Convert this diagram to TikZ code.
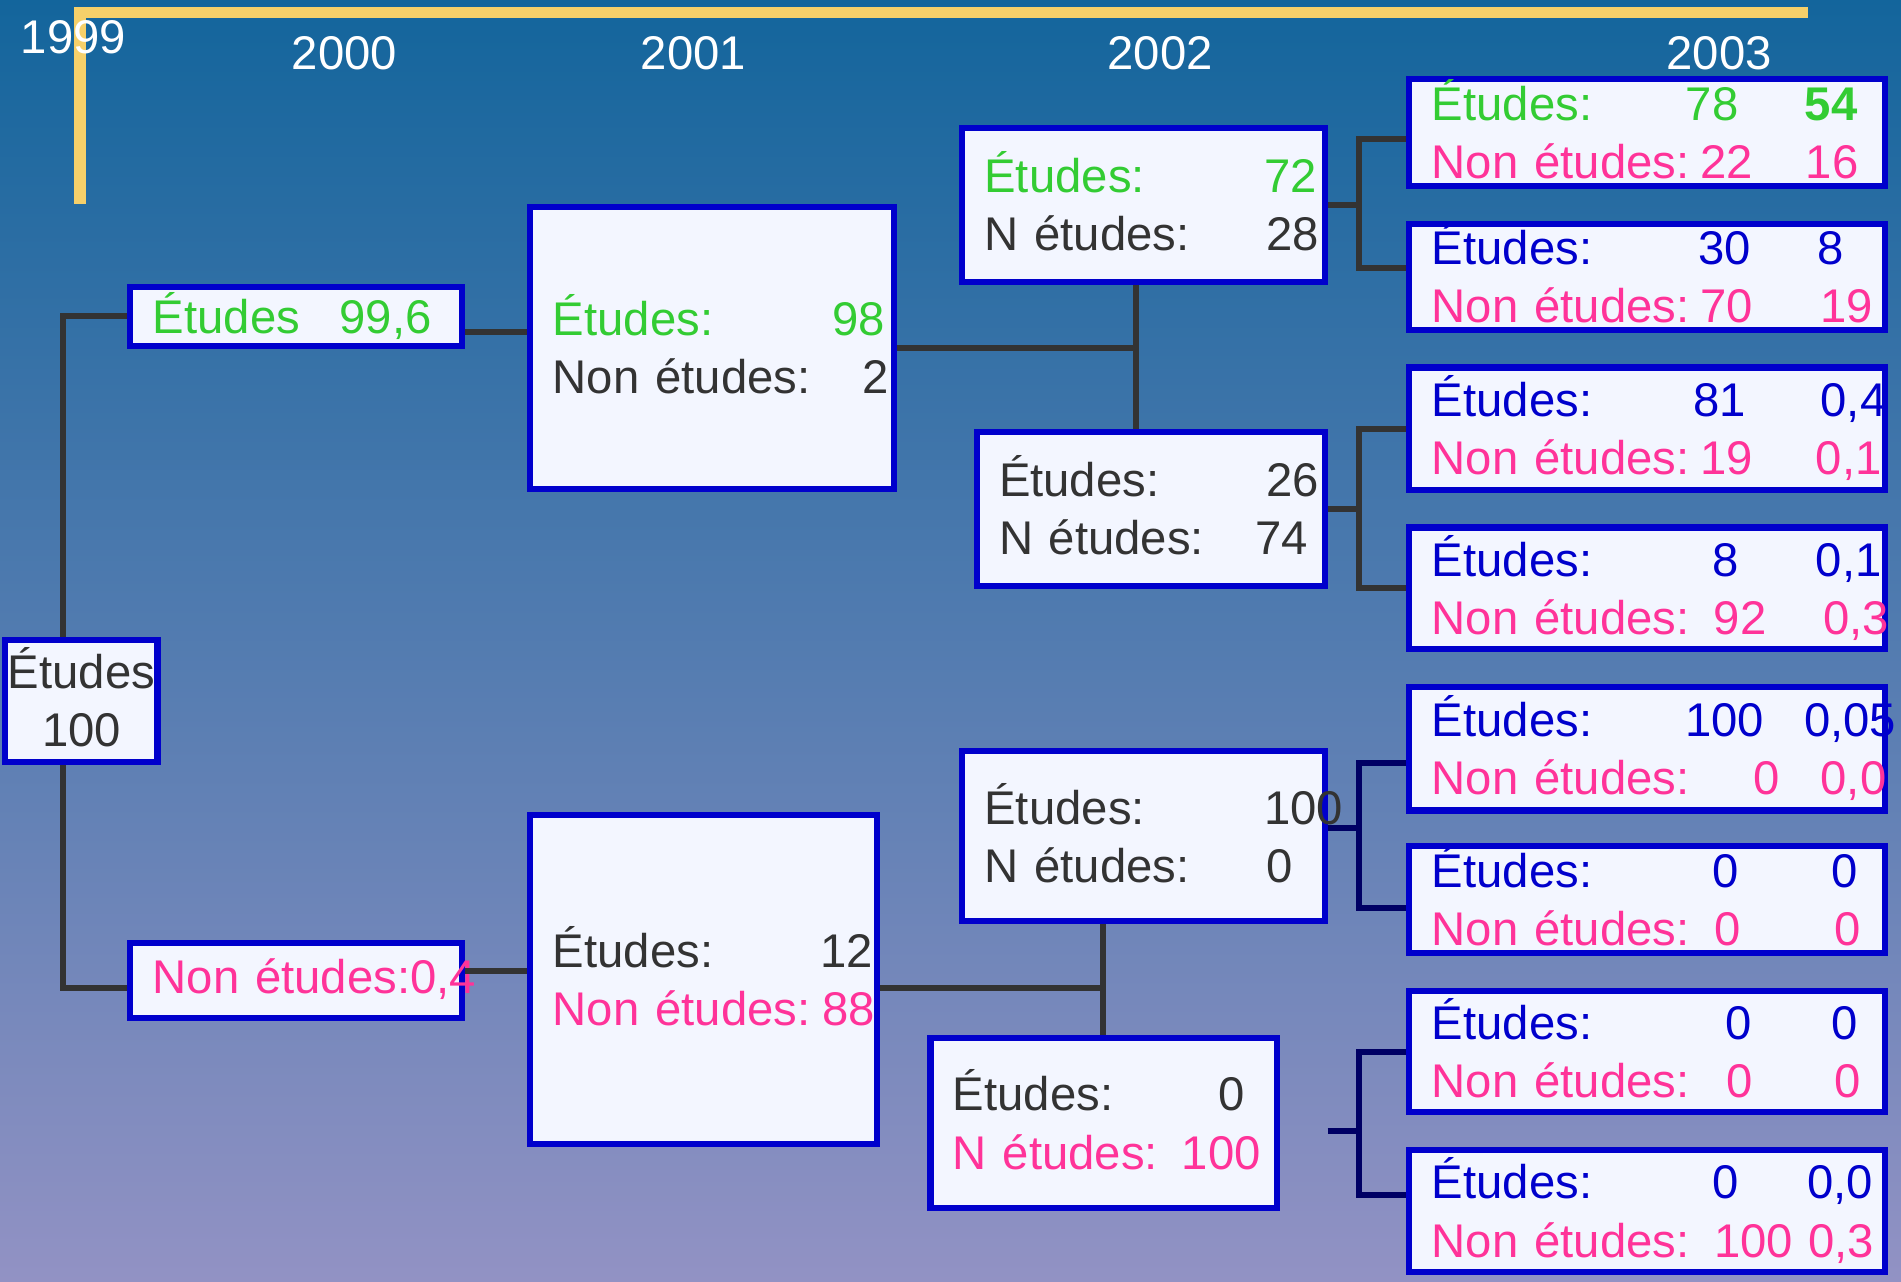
\documentclass[tikz,border=0pt]{standalone}
\usepackage{fontspec}
\setmainfont{Liberation Sans}
\setlength\parindent{0pt}

\definecolor{bgtop}{RGB}{19,101,156}
\definecolor{bgmid}{RGB}{100,121,172}
\definecolor{bgbot}{RGB}{146,146,196}
\definecolor{gold}{RGB}{246,208,106}
\definecolor{boxblue}{RGB}{0,0,204}
\definecolor{boxfill}{RGB}{243,246,255}
\definecolor{tgreen}{RGB}{51,204,51}
\definecolor{tpink}{RGB}{255,51,153}
\definecolor{tblue}{RGB}{0,0,204}
\definecolor{tdark}{RGB}{51,51,51}
\definecolor{linkgrey}{RGB}{51,51,51}
\definecolor{linknavy}{RGB}{0,0,100}

% label, then numbers set flush right at fixed offsets (pt)
\newcommand\trow[5]{\mbox{\rlap{#1}\rlap{\hspace*{#2pt}\llap{#3}}\hspace*{#4pt}\llap{#5}}}
\newcommand\crow[3]{\mbox{\rlap{#1}\hspace*{#2pt}\llap{#3}}}

\begin{document}
\begin{tikzpicture}[x=0.5pt,y=-0.5pt]

\tikzset{box/.style={
		draw=boxblue, fill=boxfill, line width=2.5pt,
		anchor=north west, inner xsep=9.25pt, inner ysep=0pt,
		align=left, text=tdark,
		font=\fontsize{19.5}{24}\selectfont,
		execute at end node={\rule[-3pt]{0pt}{3pt}}
	},
	dbox/.style={box, minimum width=196pt, text width=177.5pt},
	year/.style={text=white, font=\fontsize{19.5}{24}\selectfont},
	link/.style={draw=linkgrey, line width=2.5pt},
	navylink/.style={draw=linknavy, line width=2.5pt}
}

% background
\shade[top color=bgtop, middle color=bgmid, bottom color=bgbot] (0,0) rectangle (1568,1057);
\useasboundingbox (0,0) rectangle (1568,1057);

% time axis
\draw[gold, line width=4.75pt] (66,168) |- (1491,10.5);
\node[year] (y99) at (60.5,31) {1999};
\node[year] (y00) at (284,44) {2000};
\node[year] (y01) at (572,44) {2001};
\node[year] (y02) at (957,44) {2002};
\node[year] (y03) at (1418,44) {2003};

% 1999
\node[box, align=center, inner xsep=1pt, minimum width=62.5pt, minimum height=50.5pt] (root) at (2,525) {Études\\100};

% 2000
\node[box, minimum width=136.75pt, minimum height=24.5pt, text width=118.25pt] (e00) at (105,234)
	{\textcolor{tgreen}{\crow{Études}{115}{99,6}}};
\node[box, minimum width=136.75pt, minimum height=31pt, text width=118.25pt] (n00) at (105,775)
	{\textcolor{tpink}{\mbox{Non études:0,4}}};

% 2001
\node[box, minimum width=150pt, minimum height=116.5pt, text width=131.5pt] (e01) at (435,168)
	{\textcolor{tgreen}{\crow{Études:}{137}{98}}\\\crow{Non études:}{138.5}{2}};
\node[box, minimum width=143pt, minimum height=135.5pt, text width=124.5pt] (n01) at (435,670)
	{\crow{Études:}{132}{12}\\\textcolor{tpink}{\crow{Non études:}{133}{88}}};

% 2002
\node[box, minimum width=149.5pt, minimum height=63.5pt, text width=131pt] (e02a) at (791,103)
	{\textcolor{tgreen}{\crow{Études:}{137}{72}}\\\crow{N études:}{138}{28}};
\node[box, minimum width=143.5pt, minimum height=63.5pt, text width=125pt] (e02b) at (803,353.5)
	{\crow{Études:}{132}{26}\\\crow{N études:}{127.5}{74}};
\node[box, minimum width=149.5pt, minimum height=70.25pt, text width=131pt] (n02a) at (791,617)
	{\crow{Études:}{148}{100}\\\crow{N études:}{127}{0}};
\node[box, minimum width=143pt, minimum height=70.15pt, text width=124.5pt] (n02b) at (765,853.7)
	{\crow{Études:}{120.5}{0}\\\textcolor{tpink}{\crow{N études:}{127}{100}}};

% 2003
\node[dbox, minimum height=44pt] (e03a) at (1160,63)
	{\textcolor{tgreen}{\trow{Études:}{126.5}{78}{175.5}{\textbf{54}}}\\
	 \textcolor{tpink}{\trow{Non études:}{132.5}{22}{176}{16}}};
\node[dbox, minimum height=43.5pt] (e03b) at (1160,182)
	{\textcolor{tblue}{\trow{Études:}{131.5}{30}{170}{8}}\\
	 \textcolor{tpink}{\trow{Non études:}{132.5}{70}{182}{19}}};
\node[dbox, minimum height=50.5pt] (e03c) at (1160,300.6)
	{\textcolor{tblue}{\trow{Études:}{129.5}{81}{187.5}{0,4}}\\
	 \textcolor{tpink}{\trow{Non études:}{132.5}{19}{185.5}{0,1}}};
\node[dbox, minimum height=50.2pt] (e03d) at (1160,432.6)
	{\textcolor{tblue}{\trow{Études:}{126.5}{8}{185.5}{0,1}}\\
	 \textcolor{tpink}{\trow{Non études:}{138}{92}{188.5}{0,3}}};
\node[dbox, minimum height=51pt] (n03a) at (1160,564)
	{\textcolor{tblue}{\trow{Études:}{137}{100}{191.5}{0,05}}\\
	 \textcolor{tpink}{\trow{Non études:}{143.5}{0}{187.5}{0,0}}};
\node[dbox, minimum height=44pt] (n03b) at (1160,695.5)
	{\textcolor{tblue}{\trow{Études:}{126.5}{0}{175.5}{0}}\\
	 \textcolor{tpink}{\trow{Non études:}{127.5}{0}{177}{0}}};
\node[dbox, minimum height=50.15pt] (n03c) at (1160,814.7)
	{\textcolor{tblue}{\trow{Études:}{132}{0}{175.5}{0}}\\
	 \textcolor{tpink}{\trow{Non études:}{132.5}{0}{177}{0}}};
\node[dbox, minimum height=50.5pt] (n03d) at (1160,946)
	{\textcolor{tblue}{\trow{Études:}{126.5}{0}{182}{0,0}}\\
	 \textcolor{tpink}{\trow{Non études:}{149}{100}{182.5}{0,3}}};

% connectors
\coordinate (j1) at (937,287);
\coordinate (j2) at (910,815);
\coordinate (s4) at (1095,933);

\draw[link] ([xshift=-7.5pt]root.north) |- (e00.west);
\draw[link] ([xshift=-7.5pt]root.south) |- ([yshift=-3.25pt]n00.west);
\draw[link] ([yshift=-6.5pt]e00.east) coordinate (t1) -- (t1 -| e01.west);
\draw[link] ([yshift=3.75pt]n00.east) coordinate (t2) -- (t2 -| n01.west);

\draw[link] (e01.east) -- (e01.east -| j1);
\draw[link] (e02a.south -| j1) -- (e02b.north -| j1);
\draw[link] ([yshift=-3.5pt]n01.east) coordinate (t3) -- (t3 -| j2);
\draw[link] (n02a.south -| j2) -- (n02b.north -| j2);

\draw[link] (e02a.east) -- ++(13pt,0) coordinate (k1);
\draw[link] ([yshift=-2.75pt]e03a.west) -| (k1) |- ([yshift=3.5pt]e03b.west);
\draw[link] (e02b.east) -- ++(13pt,0) coordinate (k2);
\draw[link] (e03c.west) -| (k2) |- (e03d.west);
\draw[navylink] ([yshift=3.5pt]n02a.east) -- ++(13pt,0) coordinate (k3);
\draw[navylink] ([yshift=-5.75pt]n03a.west) -| (k3) |- ([yshift=-3.5pt]n03b.west);
\draw[navylink] (s4) -- ++(13pt,0) coordinate (k4);
\draw[navylink] (n03c.west) -| (k4) |- ([yshift=6.5pt]n03d.west);

\end{tikzpicture}
\end{document}
